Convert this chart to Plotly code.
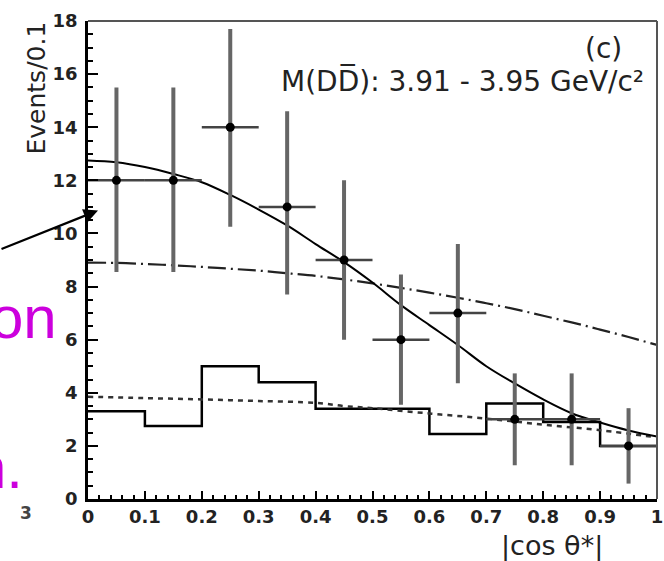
import plotly.graph_objects as go

# data points with (asymmetric) errors
cos_x = [0.05, 0.15, 0.25, 0.35, 0.45, 0.55, 0.65, 0.75, 0.85, 0.95]
events = [12, 12, 14, 11, 9, 6, 7, 3, 3, 2]
err_up = [3.5, 3.5, 3.7, 3.6, 3.0, 2.45, 2.6, 1.73, 1.73, 1.42]
err_down = [3.45, 3.45, 3.75, 3.3, 3.0, 2.45, 2.64, 1.73, 1.73, 1.42]

# solid histogram (per 0.1 bin)
bin_edges = [0, 0.1, 0.2, 0.3, 0.4, 0.5, 0.6, 0.7, 0.8, 0.9, 1.0]
hist_vals = [3.3, 2.75, 5.0, 4.4, 3.4, 3.4, 2.45, 3.6, 2.9, 2.0]

# fitted curves
curve_x = [0, 0.05, 0.1, 0.15, 0.2, 0.25, 0.3, 0.35, 0.4, 0.45, 0.5,
           0.55, 0.6, 0.65, 0.7, 0.75, 0.8, 0.85, 0.9, 0.95, 1.0]
fit_total = [12.75, 12.68, 12.5, 12.24, 11.93, 11.45, 10.9, 10.3, 9.6, 8.92, 8.15,
             7.3, 6.55, 5.8, 5.0, 4.35, 3.75, 3.23, 2.88, 2.58, 2.35]
fit_dash = [8.9, 8.89, 8.85, 8.8, 8.74, 8.67, 8.6, 8.5, 8.4, 8.27, 8.12,
            7.95, 7.77, 7.58, 7.37, 7.15, 6.9, 6.65, 6.38, 6.1, 5.8]
bkg_x = [0, 0.1, 0.2, 0.3, 0.4, 0.45, 0.5, 0.6, 0.7, 0.8, 0.9, 1.0]
fit_bkg = [3.85, 3.8, 3.75, 3.69, 3.62, 3.5, 3.42, 3.22, 3.03, 2.8, 2.59, 2.32]

FONT = "DejaVu Sans"

fig = go.Figure()

# histogram
fig.add_trace(go.Scatter(x=bin_edges, y=hist_vals + [hist_vals[-1]],
                         mode="lines", line=dict(color="black", width=2.5, shape="hv")))
# background dotted
fig.add_trace(go.Scatter(x=bkg_x, y=fit_bkg, mode="lines",
                         line=dict(color="#333", width=2.5, dash="5px,5px", shape="spline")))
# long dashed
fig.add_trace(go.Scatter(x=curve_x, y=fit_dash, mode="lines",
                         line=dict(color="#222", width=2.2, dash="18px,5px,2px,5px", shape="spline")))
# total fit
fig.add_trace(go.Scatter(x=curve_x, y=fit_total, mode="lines",
                         line=dict(color="black", width=2, shape="spline")))
# data
fig.add_trace(go.Scatter(
    x=cos_x, y=events, mode="markers",
    marker=dict(color="black", size=9),
    error_y=dict(type="data", array=err_up, arrayminus=err_down,
                 color="#666", thickness=4, width=0),
    error_x=dict(type="constant", value=0.05, color="#444", thickness=2.5, width=0),
))

fig.update_layout(
    width=664, height=561,
    margin=dict(l=88, r=7, t=21, b=62),
    paper_bgcolor="white", plot_bgcolor="white",
    showlegend=False,
    font=dict(family=FONT, color="#222"),
)

tickfont = dict(family=FONT, size=18, color="#222", weight="bold")
fig.update_xaxes(range=[0, 1], dtick=0.1, showgrid=False, zeroline=False, automargin=False,
                 showline=True, linecolor="black", linewidth=2.5,
                 ticks="inside", ticklen=8, tickwidth=2, tickcolor="black",
                 minor=dict(ticks="inside", ticklen=4, dtick=0.02, tickcolor="black", tickwidth=1.5),
                 tickfont=tickfont)
fig.update_yaxes(range=[0, 18], dtick=2, showgrid=False, zeroline=False, automargin=False,
                 showline=True, linecolor="black", linewidth=2.5,
                 ticks="inside", ticklen=10, tickwidth=2, tickcolor="black",
                 minor=dict(ticks="inside", ticklen=5, dtick=0.5, tickcolor="black", tickwidth=1.5),
                 tickfont=tickfont, ticklabelstandoff=4)

# top / right frame
fig.add_shape(type="line", xref="paper", yref="paper", x0=0, x1=1, y0=1, y1=1,
              line=dict(color="#555", width=2))
fig.add_shape(type="line", xref="paper", yref="paper", x0=1, x1=1, y0=0, y1=1,
              line=dict(color="#555", width=2))


def px(x):
    return (x - 88) / 569


def py(y):
    return (499.5 - y) / 478


ann = [
    dict(text="(c)", x=624, y=49, size=28, xanchor="right"),
    dict(text="M(DD\u0305): 3.91 - 3.95 GeV/c\u00b2", x=646, y=81, size=28, xanchor="right"),
    dict(text="|cos \u03b8*|", x=552, y=546, size=27, xanchor="center"),
]
for a in ann:
    fig.add_annotation(text=a["text"], xref="paper", yref="paper",
                       x=px(a["x"]), y=py(a["y"]),
                       xanchor=a["xanchor"], yanchor="middle", showarrow=False,
                       font=dict(family=FONT, size=a["size"], color="#222"))

fig.add_annotation(text="Events/0.1", xref="paper", yref="paper",
                   x=px(36), y=py(88), textangle=-90,
                   xanchor="center", yanchor="middle", showarrow=False,
                   font=dict(family=FONT, size=25, color="#222"))

fig.add_annotation(text="3", xref="paper", yref="paper",
                   x=px(26), y=py(513),
                   xanchor="center", yanchor="middle", showarrow=False,
                   font=dict(family=FONT, size=17, color="#444", weight="bold"))

# slide text and arrow
for txt, xr, yc in [("on", 59, 318), ("n.", 25, 468)]:
    fig.add_annotation(text=txt, xref="paper", yref="paper",
                       x=px(xr), y=py(yc),
                       xanchor="right", yanchor="middle", showarrow=False,
                       font=dict(family="Liberation Sans", size=60, color="#CC00DD"))

fig.add_annotation(text="", x=px(98), y=py(211),
                   xref="paper", yref="paper", ax=-98, ay=39,
                   showarrow=True, arrowhead=2, arrowsize=1.3, arrowwidth=2.2,
                   arrowcolor="black", standoff=0)

# drop the default 8px page margin so the figure fills the window
fig.write_html("out.html", config={"displayModeBar": False},
               post_script="document.body.style.margin = '0';")
